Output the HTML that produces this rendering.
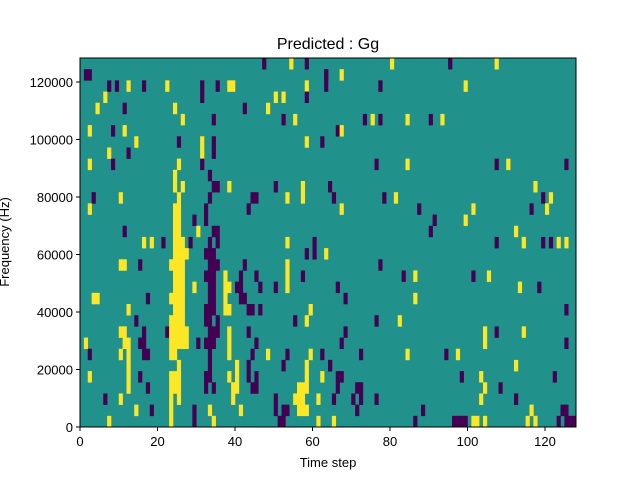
<!DOCTYPE html>
<html><head><meta charset="utf-8"><style>
body{margin:0;background:#fff;}
svg text{font-family:"Liberation Sans","DejaVu Sans",sans-serif;}
</style></head><body>
<svg id="s" width="640" height="480" xmlns="http://www.w3.org/2000/svg">
<rect x="0" y="0" width="640" height="480" fill="#fff"/>
<rect x="80" y="58" width="496" height="369" fill="#21918c"/>
<g id="cells"></g>
<rect x="80" y="58" width="496" height="369" fill="none" stroke="#000" stroke-width="1"/>
<text x="328" y="49" font-size="16" text-anchor="middle">Predicted : Gg</text>
<g font-size="13" text-anchor="middle">
<text x="80" y="446">0</text><text x="157.5" y="446">20</text><text x="235" y="446">40</text>
<text x="312.5" y="446">60</text><text x="390" y="446">80</text><text x="467.5" y="446">100</text><text x="545" y="446">120</text>
</g>
<g stroke="#000">
<line x1="80" y1="427" x2="80" y2="431"/><line x1="157.5" y1="427" x2="157.5" y2="431"/><line x1="235" y1="427" x2="235" y2="431"/>
<line x1="312.5" y1="427" x2="312.5" y2="431"/><line x1="390" y1="427" x2="390" y2="431"/><line x1="467.5" y1="427" x2="467.5" y2="431"/><line x1="545" y1="427" x2="545" y2="431"/>
<line x1="76" y1="427" x2="80" y2="427"/><line x1="76" y1="369.5" x2="80" y2="369.5"/><line x1="76" y1="312" x2="80" y2="312"/>
<line x1="76" y1="254.5" x2="80" y2="254.5"/><line x1="76" y1="197" x2="80" y2="197"/><line x1="76" y1="139.5" x2="80" y2="139.5"/><line x1="76" y1="82" x2="80" y2="82"/>
</g>
<g font-size="13" text-anchor="end">
<text x="73" y="432">0</text><text x="73" y="374.5">20000</text><text x="73" y="317">40000</text>
<text x="73" y="259.5">60000</text><text x="73" y="202">80000</text><text x="73" y="144.5">100000</text><text x="73" y="87">120000</text>
</g>
<text x="328" y="467" font-size="13" text-anchor="middle">Time step</text>
<text x="9" y="242" font-size="13" text-anchor="middle" transform="rotate(-90 9 242)">Frequency (Hz)</text>
</svg>
<script>
var P="#440154",Y="#fde725";
// row: list of [c0,c1,type]
var R=[
"p47 y54 p58 y80 p95 y107",
"p1-2 p63 p63 y67",
"p7 p9 y12 p16 y22 p31 p35 y38-39 y58 p63 p77 y99",
"y6 p31 y50 y52 p58",
"y4 p11 y24 p42 y48",
"y26 p34 p52 y55 p73 y75 p77 y84 p90 y93",
"y2 p8 y11 p66 y67",
"y14 p25 y31 p34 y58 p62",
"y7 p12 y31 p34",
"y2 p8 y25 p31 p76 y84 p107 y110 p125",
"y24 p33",
"y24 y26 p34-35 y38 p50 y57 p64 y117",
"p3 y10 y25 p33 p44-45 y53 y57 p65 p78 y81 p119 y121",
"y2 y24-25 p32 p43 y67 p87 y101 p116 y120",
"y24-25 p29 p32 p91 y99",
"p11 y24-25 y30 p34-35 p90 y112",
"y16 y18 p21 y24-26 p28 p33 p35 y53 p60 p107 y114 p119 p121 y123 y125",
"y24-27 p32-34 p58 p60 y63",
"y10-11 p15 y23-26 p33-35 p42 y53 p77",
"y24-26 p32-34 y37 p41 p45 y53 p57 p83 y86 p101 y105",
"y24-26 y29 p33-34 y37-38 p40-41 p46 p50 y53 p66 y113 p118",
"y3-4 p17 y23-26 p33-34 y37 p41-42 p68 y86",
"y12 y24-26 p32-34 y37-38 p43-44 p46 y59 p125",
"p14 y23-26 p32-33 p35 p55 y58 p76 y82",
"y10-11 p16 p22 y23-27 p33-35 y38 p43 p68 y104 p107 y114",
"y1 y11-12 p15-16 y23-27 p30 p32-34 y38 p45 p67 y104 p125",
"p2 y10 y12 p16-17 y23-24 p33 y38 p44 y48 p53 y59 p62 p72 y84 p94 y97",
"y12 y25 p33 y40 p43 p52 y58 p64 p64 y112",
"y2 y12 p15 y23-25 p32-33 y38 y40 p43 p45 y58 y62 p66-67 p98 y103 p122",
"y12 p17 y23-25 p32 p34 y39-40 p44-45 y56-58 p66 p71-72 y104 p108",
"p6 y10 y23 y25 y39 p50 y55-57 y61 p65 p70 p72 p76 y103 p112",
"y14 p18 y23 p29 y33 y41 p50 p52-53 y56-58 p71 p88 y116 p124 p125",
"y7 y23 p29 y34 p51-52 y61 y65 p86 p96-99 y101-102 y104 y115 y117 p123 p125-127"
];
var g=document.getElementById("cells"),h=369/33,w=496/128,s="";
R.forEach(function(row,r){row.split(" ").forEach(function(t){if(!t)return;var c=t[0]=="p"?P:Y;var a=t.slice(1).split("-");var c0=+a[0],c1=a.length>1?+a[1]:c0;
s+='<rect x="'+(80+c0*w)+'" y="'+(58+r*h)+'" width="'+((c1-c0+1)*w+0.3)+'" height="'+(h+0.3)+'" fill="'+c+'"/>';});});
g.innerHTML=s;
</script>
</body></html>
